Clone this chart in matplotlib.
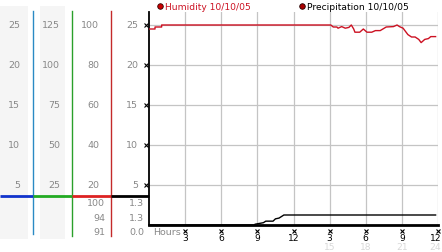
import matplotlib
matplotlib.use("Agg")
import matplotlib.pyplot as plt
import matplotlib.transforms as mtransforms
from matplotlib.lines import Line2D
from matplotlib.patches import Rectangle

# ---- data ----
hum_hours = [0, 0.5, 0.5, 1.05, 1.05, 15.1, 15.3, 15.6, 15.7, 16.0, 16.3, 16.6, 16.8,
             17.0, 17.1, 17.5, 17.8, 18.1, 18.5, 18.8, 19.2, 19.7, 20.3, 20.6, 20.8,
             21.1, 21.5, 21.8, 22.1, 22.4, 22.6, 22.9, 23.2, 23.4, 23.8]
hum_vals = [98, 98, 99, 99, 100, 100, 99, 99, 98.4, 99.2, 98.4, 98.8, 100,
            98, 96.4, 96.4, 98, 96.4, 96.4, 97.2, 97.2, 99, 99.2, 100, 99.2,
            98.4, 95.2, 94, 94, 92.8, 91.2, 92.8, 93.2, 94.2, 94.2]
pre_hours = [0, 8.8, 8.8, 9.5, 9.7, 10.3, 10.5, 10.8, 11.1, 11.2, 23.8]
pre_vals = [0, 0, 0.1, 0.3, 0.5, 0.5, 0.8, 0.9, 1.2, 1.3, 1.3]

grid_vals = [20, 40, 60, 80, 100]
col1_labels = ["5", "10", "15", "20", "25"]
col2_labels = ["25", "50", "75", "100", "125"]
col3_labels = ["20", "40", "60", "80", "100"]
col4_labels = ["5", "10", "15", "20", "25"]
hum_readout = ["100", "94", "91"]
pre_readout = ["1.3", "1.3", "0.0"]
x_ticks = [3, 6, 9, 12, 15, 18, 21, 24]
x_labels_top = ["3", "6", "9", "12", "3", "6", "9", "12"]
x_labels_bot = ["", "", "", "", "15", "18", "21", "24"]
legend_items = ["Humidity 10/10/05", "Precipitation 10/10/05"]

W, H = 442, 253
fig = plt.figure(figsize=(W / 100, H / 100), dpi=100)
fig.patch.set_facecolor("white")

def fx(px):
    return px / W

def fy(py):
    return (H - py) / H

# main axes
ax_l, ax_r, ax_t, ax_b = 149, 438, 13, 226
ax = fig.add_axes([fx(ax_l), fy(ax_b), fx(ax_r - ax_l), (ax_b - ax_t) / H])
ymax = 100 * (ax_b - ax_t) / 200.0
ax.set_xlim(0, 24)
ax.set_ylim(0, ymax)
for s in ["top", "right"]:
    ax.spines[s].set_visible(False)
ax.spines["left"].set_linewidth(1.3)
ax.spines["bottom"].set_linewidth(2.0)
ax.set_xticks([])
ax.set_yticks([])
for g in grid_vals:
    ax.axhline(g, color="#c4c4c4", lw=0.9, zorder=0)
for xt in x_ticks:
    ax.axvline(xt, color="#c4c4c4", lw=0.9, zorder=0)

ax.plot(hum_hours, hum_vals, color="#cc1122", lw=1.0, zorder=3)

ax2 = ax.twinx()
ax2.set_ylim(0, 1.3 * (ax_b - ax_t) / 10.0)
ax2.set_xlim(0, 24)
ax2.axis("off")
ax2.plot(pre_hours, pre_vals, color="black", lw=1.0, zorder=3)

# y tick marks
ytr = mtransforms.blended_transform_factory(fig.transFigure, ax.transData)
for g in grid_vals:
    ax.plot([fx(146)], [g], marker="x", ms=2.5, mew=0.8, color="black",
            transform=ytr, clip_on=False)

# x tick marks and labels
xtr = mtransforms.blended_transform_factory(ax.transData, fig.transFigure)
last = x_ticks[-1]
for xt, lt, lb in zip(x_ticks, x_labels_top, x_labels_bot):
    ax.plot([xt], [fy(231.5)], marker="x", ms=2.5, mew=0.8, color="black",
            transform=xtr, clip_on=False)
    if xt == last:
        kw = dict(ha="right", x=fx(441.5), transform=fig.transFigure)
    else:
        kw = dict(ha="center", x=xt, transform=xtr)
    xpos = kw.pop("x")
    ax.text(xpos, fy(239), lt, va="center", fontsize=6.6, color="black", **kw)
    if lb:
        ax.text(xpos, fy(247.5), lb, va="center", fontsize=6.6, color="#d8d8d8", **kw)
fig.text(fx(153), fy(233), "Hours", ha="left", va="center", fontsize=6.8, color="#888888")

# left scale area
for x0, x1 in [(0, 28), (40, 65)]:
    fig.add_artist(Rectangle((fx(x0), fy(240)), fx(x1 - x0), (240 - 7) / H,
                             transform=fig.transFigure, facecolor="#f5f5f5",
                             edgecolor="none", zorder=0))
for xv, c, y1 in [(33, "#2a8ac4", 235), (72, "#2aa02a", 237), (111, "#c42a2a", 237)]:
    fig.add_artist(Line2D([fx(xv), fx(xv)], [fy(12), fy(y1)], transform=fig.transFigure,
                          color=c, lw=1.0))
for x0, x1, c in [(0, 33, "#1133cc"), (33, 72, "#22aa22"), (72, 111, "#dd2222"), (111, 149, "black")]:
    fig.add_artist(Line2D([fx(x0), fx(x1)], [fy(197), fy(197)], transform=fig.transFigure,
                          color=c, lw=2.0, solid_capstyle="butt"))

lab_c = "#888888"
for labels, xr in [(col1_labels, 20), (col2_labels, 60), (col3_labels, 99), (col4_labels, 138)]:
    for g, t in zip(grid_vals, labels):
        ax.text(fx(xr), g, t, transform=ytr, ha="right", va="center",
                fontsize=6.8, color=lab_c)
for i, (a, b) in enumerate(zip(hum_readout, pre_readout)):
    yy = fy(204 + i * 14.3)
    fig.text(fx(105), yy, a, ha="right", va="center", fontsize=6.8, color=lab_c)
    fig.text(fx(144), yy, b, ha="right", va="center", fontsize=6.8, color=lab_c)

# legend
fig.add_artist(Line2D([fx(160)], [fy(7)], marker="o", ms=4, mfc="#cc0000", mec="#330000",
                      mew=0.6, transform=fig.transFigure, ls="none"))
fig.text(fx(165), fy(7), legend_items[0], ha="left", va="center", fontsize=6.6, color="#cc1122")
fig.add_artist(Line2D([fx(302)], [fy(7)], marker="o", ms=4, mfc="#aa0000", mec="#220000",
                      mew=0.6, transform=fig.transFigure, ls="none"))
fig.text(fx(307), fy(7), legend_items[1], ha="left", va="center", fontsize=6.6, color="black")

fig.savefig("out.png", dpi=100)
